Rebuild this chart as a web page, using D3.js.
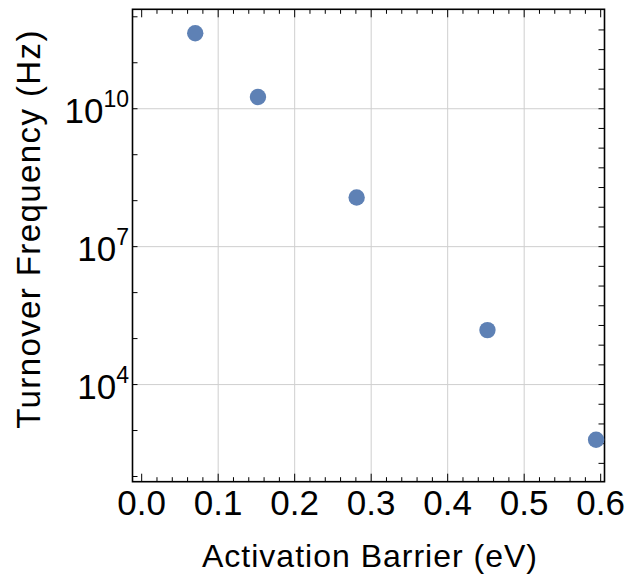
<!DOCTYPE html>
<html><head><meta charset="utf-8">
<script src="https://cdn.jsdelivr.net/npm/d3@7"></script>
<style>body{margin:0;background:#fff}svg text{font-family:"Liberation Sans",Arial,sans-serif}</style>
</head><body>
<svg id="c" width="631" height="577"></svg>
<script>
const barrier = [0.07, 0.152, 0.281, 0.452, 0.594];
const frequency = [4.4e11, 1.8e10, 1.17e8, 1.53e5, 630];
const xTicks = [0.0, 0.1, 0.2, 0.3, 0.4, 0.5, 0.6];
const yTickExps = [4, 7, 10];
const xLabel = "Activation Barrier (eV)";
const yLabel = "Turnover Frequency (Hz)";

const svg = d3.select("#c");
const L = 132.5, R = 604.5, T = 9.3, B = 481.7;
const x = d3.scaleLinear().domain([-0.012, 0.605]).range([L, R]);
const y = d3.scaleLog().domain([Math.pow(10,1.887), Math.pow(10,12.163)]).range([B, T]);
const col = "#5E81B5";

// grid
const g = svg.append("g");
g.selectAll(".gx").data(xTicks.filter(v => v > 0 && v < 0.6)).enter().append("line")
  .attr("x1", d => x(d)).attr("x2", d => x(d)).attr("y1", T).attr("y2", B)
  .attr("stroke", "#cfcfcf").attr("stroke-width", 1);
g.selectAll(".gy").data(yTickExps).enter().append("line")
  .attr("y1", d => y(Math.pow(10,d))).attr("y2", d => y(Math.pow(10,d))).attr("x1", L).attr("x2", R)
  .attr("stroke", "#cfcfcf").attr("stroke-width", 1);

// x ticks (bottom & top)
const xMinor = d3.range(0, 61, 2).map(v => v/100).filter(v => Math.round(v*100) % 10 !== 0);
function vtick(vals, len, yb, dir) {
  svg.append("g").selectAll("line").data(vals).enter().append("line")
    .attr("x1", d => x(d)).attr("x2", d => x(d)).attr("y1", yb).attr("y2", yb + dir*len)
    .attr("stroke", "#000").attr("stroke-width", 1);
}
vtick(xTicks, 8, B, -1); vtick(xMinor, 4.5, B, -1);
vtick(xTicks, 8, T, 1); vtick(xMinor, 4.5, T, 1);

// y ticks left
const yLeft = d3.range(2, 13).map(e => Math.pow(10, e));
svg.append("g").selectAll("line").data(yLeft).enter().append("line")
  .attr("y1", d => y(d)).attr("y2", d => y(d)).attr("x1", L).attr("x2", L + 5)
  .attr("stroke", "#000");
// y ticks right (every 3/7 decade)
const yRight = d3.range(-4, 20).map(k => Math.pow(10, 4 + k*3/7)).filter(v => y(v) > T + 2 && y(v) < B - 2);
svg.append("g").selectAll("line").data(yRight).enter().append("line")
  .attr("y1", d => y(d)).attr("y2", d => y(d)).attr("x1", R).attr("x2", R - 6)
  .attr("stroke", "#000");

// frame
svg.append("rect").attr("x", L).attr("y", T).attr("width", R - L).attr("height", B - T)
  .attr("fill", "none").attr("stroke", "#000").attr("stroke-width", 1.6);

// x tick labels
svg.append("g").selectAll("text").data(xTicks).enter().append("text")
  .attr("x", d => x(d)).attr("y", 515).attr("text-anchor", "middle")
  .attr("font-size", 35).text(d => d.toFixed(1));

// y tick labels
const yl = svg.append("g").selectAll("text").data(yTickExps).enter().append("text")
  .attr("x", 129).attr("y", d => y(Math.pow(10,d)) + 14).attr("text-anchor", "end").attr("font-size", 35);
yl.append("tspan").text("10");
yl.append("tspan").attr("dy", -16).attr("font-size", 23).text(d => d);

// axis titles
svg.append("text").attr("x", 370).attr("y", 567).attr("text-anchor", "middle")
  .attr("font-size", 32).attr("letter-spacing", 1).text(xLabel);
svg.append("text").attr("transform", "translate(40,229) rotate(-90)").attr("text-anchor", "middle")
  .attr("font-size", 33).attr("letter-spacing", 1.4).text(yLabel);

// points
svg.append("g").selectAll("circle").data(barrier).enter().append("circle")
  .attr("cx", d => x(d)).attr("cy", (d, i) => y(frequency[i])).attr("r", 8.2).attr("fill", col);
</script>
</body></html>
